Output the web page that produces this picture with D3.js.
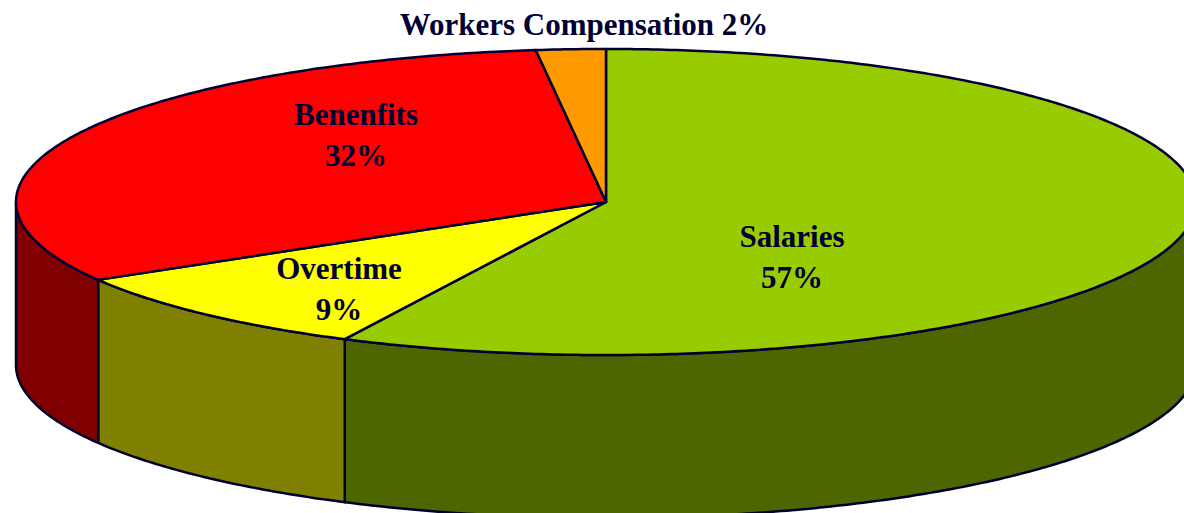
<!DOCTYPE html>
<html>
<head>
<meta charset="utf-8">
<script src="https://cdn.jsdelivr.net/npm/d3@7"></script>
<style>
html, body { margin: 0; padding: 0; background: #fff; overflow: hidden; }
svg { display: block; }
text { font-family: "Liberation Serif", serif; font-weight: bold; fill: #000033; }
</style>
</head>
<body>
<script>
// pie values, clockwise from 12 o'clock
var categories = ["Salaries", "Overtime", "Benenfits", "Workers Compensation"];
var values = [57.3, 9.2, 31.6, 1.9];    // as measured from the slice edges
var percents = [57, 9, 32, 2];          // as printed on the labels
var topColors = ["#99cc00", "#ffff00", "#ff0000", "#ff9900"];
var sideColors = ["#4d6600", "#808000", "#800000", "#804c00"];

var WIDTH = 1184, HEIGHT = 513;
var CX = 606, CY = 202, RX = 590, RY = 153, DEPTH = 163;
var INK = "#000033";

var svg = d3.select("body").append("svg")
  .attr("width", WIDTH)
  .attr("height", HEIGHT);

var slices = d3.pie().sort(null)(values);

// unit circle -> screen, angle measured clockwise from the top
var sx = d3.scaleLinear().domain([-1, 1]).range([CX - RX, CX + RX]);
var sy = d3.scaleLinear().domain([-1, 1]).range([CY - RY, CY + RY]);
var line = d3.line().x(function(d) { return d[0]; }).y(function(d) { return d[1]; });

function rim(a0, a1, drop) {
  var n = Math.max(2, Math.ceil((a1 - a0) / 0.01));
  return d3.range(n + 1).map(function(i) {
    var a = a0 + (a1 - a0) * i / n;
    return [sx(Math.sin(a)), sy(-Math.cos(a)) + drop];
  });
}

// side wall, only the part of the rim facing the viewer
slices.forEach(function(s, i) {
  var a0 = Math.max(s.startAngle, Math.PI / 2);
  var a1 = Math.min(s.endAngle, Math.PI * 1.5);
  if (a1 <= a0) return;
  var pts = rim(a0, a1, 0).concat(rim(a0, a1, DEPTH).reverse());
  svg.append("path")
    .attr("d", line(pts) + "Z")
    .attr("fill", sideColors[i])
    .attr("stroke", INK)
    .attr("stroke-width", 2.5)
    .attr("stroke-linejoin", "round");
});

// top face
slices.forEach(function(s, i) {
  var pts = [[CX, CY]].concat(rim(s.startAngle, s.endAngle, 0));
  svg.append("path")
    .attr("d", line(pts) + "Z")
    .attr("fill", topColors[i])
    .attr("stroke", INK)
    .attr("stroke-width", 2.5)
    .attr("stroke-linejoin", "round");
});

// labels
var labelSpots = [
  { x: 792, y: 247, two: true },
  { x: 339, y: 279, two: true },
  { x: 356, y: 125, two: true },
  { x: 584, y: 35, two: false }
];

labelSpots.forEach(function(p, i) {
  var t = svg.append("text")
    .attr("text-anchor", "middle")
    .attr("font-size", 31);
  if (p.two) {
    t.append("tspan").attr("x", p.x).attr("y", p.y).text(categories[i]);
    t.append("tspan").attr("x", p.x).attr("y", p.y + 41).text(percents[i] + "%");
  } else {
    t.attr("x", p.x).attr("y", p.y).text(categories[i] + " " + percents[i] + "%");
  }
});
</script>
</body>
</html>
